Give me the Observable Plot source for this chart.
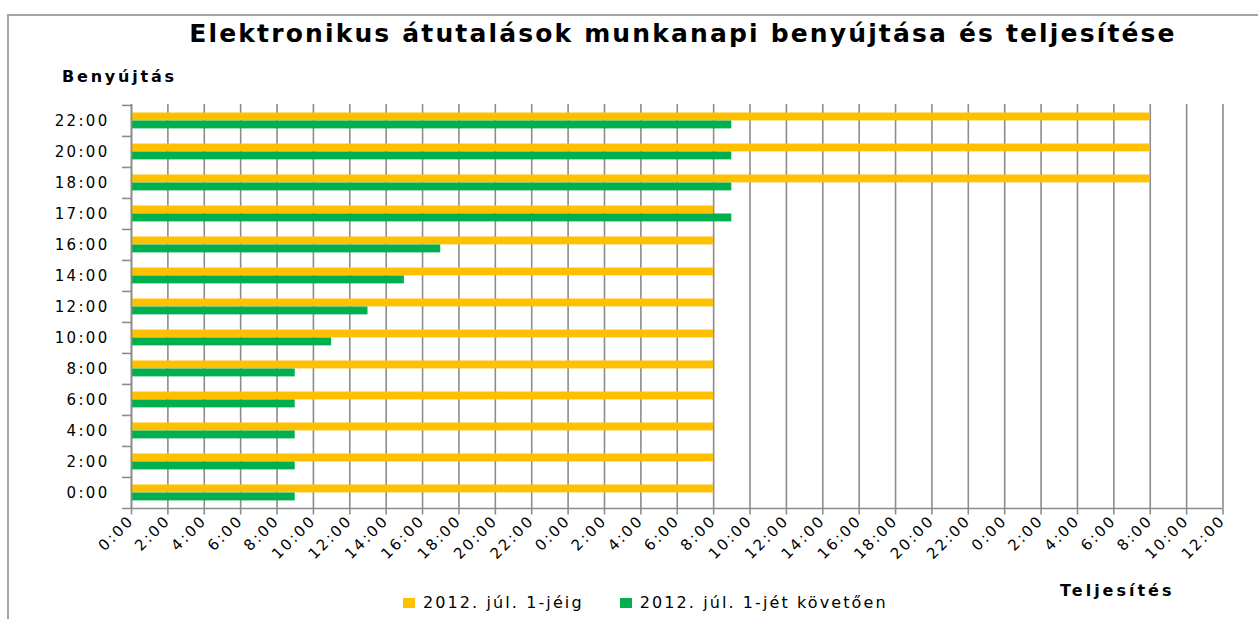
<!DOCTYPE html>
<html>
<head>
<meta charset="utf-8">
<script src="https://cdn.jsdelivr.net/npm/d3@7"></script>
<script src="https://cdn.jsdelivr.net/npm/@observablehq/plot@0.6"></script>
<style>
  html, body { margin: 0; padding: 0; background: #fff; }
  #wrap { position: relative; width: 1258px; height: 619px; overflow: hidden; font-family: "DejaVu Sans", sans-serif; }
  #frame { position: absolute; left: 7px; top: 14px; width: 1300px; height: 700px; border-left: 2px solid #a6a6a6; border-top: 2px solid #a6a6a6; }
  #chart { position: absolute; left: 0; top: 0; }
  .txt { position: absolute; white-space: nowrap; color: #000; }
  #title { left: 0; width: 1366px; text-align: center; top: 19px; font-size: 25px; font-weight: bold; letter-spacing: 2.15px; }
  #ylab { left: 62px; top: 67px; font-size: 16px; font-weight: bold; letter-spacing: 2.8px; }
  #xlab { left: 1060px; top: 581px; font-size: 16px; font-weight: bold; letter-spacing: 3px; }
  #legend { left: 403px; top: 593px; font-size: 16px; letter-spacing: 2.1px; display: flex; align-items: center; }
  .sw { display: inline-block; width: 12px; height: 10px; margin-right: 8px; }
</style>
</head>
<body>
<div id="wrap">
  <div id="frame"></div>
  <div id="chart"></div>
  <div class="txt" id="title">Elektronikus átutalások munkanapi benyújtása és teljesítése</div>
  <div class="txt" id="ylab">Benyújtás</div>
  <div class="txt" id="xlab">Teljesítés</div>
  <div class="txt" id="legend"></div>
</div>
<script>
// Submission times (categories, top to bottom)
const categories = ["22:00","20:00","18:00","17:00","16:00","14:00","12:00","10:00","8:00","6:00","4:00","2:00","0:00"];
// Completion time in hours from day-1 0:00
const seriesBefore = [56, 56, 56, 32, 32, 32, 32, 32, 32, 32, 32, 32, 32]; // 2012. júl. 1-jéig
const seriesAfter  = [33, 33, 33, 33, 17, 15, 13, 11, 9, 9, 9, 9, 9];      // 2012. júl. 1-jét követően
const seriesNames = ["2012. júl. 1-jéig", "2012. júl. 1-jét követően"];
const seriesColors = ["#FFC000", "#00B050"];
const xTicks = d3.range(0, 61, 2);
const tickLabel = h => `${h % 24}:00`;

const W = 1258, H = 619;
const mL = 131, mR = 35.5, mT = 104, mB = 110.5;
const band = (H - mT - mB) / categories.length;
const plotW = W - mL - mR;

const before = categories.map((c, i) => ({cat: c, v: seriesBefore[i]}));
const after = categories.map((c, i) => ({cat: c, v: seriesAfter[i]}));
const gridColor = "#8c8c8c";

const chart = Plot.plot({
  width: W, height: H,
  marginLeft: mL, marginRight: mR, marginTop: mT, marginBottom: mB,
  style: {fontFamily: "DejaVu Sans, sans-serif", fontSize: "15px", letterSpacing: "2.3px", color: "#000", background: "transparent"},
  x: {domain: [0, 60]},
  y: {domain: categories, padding: 0},
  marks: [
    Plot.ruleX(xTicks, {x: d => d, stroke: gridColor, strokeWidth: 1.6}),
    Plot.axisX({ticks: xTicks, tickFormat: tickLabel, tickRotate: -45, tickSize: 6, tickPadding: 3, stroke: gridColor, strokeWidth: 1.6, label: null, fontSize: 15}),
    Plot.axisY({tickSize: 0, tickPadding: 22, label: null}),
    // category boundary ticks on the y axis
    Plot.tickY(categories, {y: d => d, dy: -band / 2, dx: -9, insetRight: plotW - 9, stroke: gridColor, strokeWidth: 1.6}),
    Plot.tickY(categories.slice(-1), {y: d => d, dy: band / 2, dx: -9, insetRight: -9, stroke: gridColor, strokeWidth: 1.6}),
    Plot.barX(before, {x: "v", y: "cat", fill: seriesColors[0], insetTop: 7.5, insetBottom: band - 15.5}),
    Plot.barX(after, {x: "v", y: "cat", fill: seriesColors[1], insetTop: 15.5, insetBottom: band - 23.5}),
    Plot.ruleX([0], {stroke: gridColor, strokeWidth: 1.6})
  ]
});
document.getElementById("chart").appendChild(chart);

const lg = document.getElementById("legend");
seriesNames.forEach((n, i) => {
  const item = document.createElement("span");
  item.style.display = "inline-flex";
  item.style.alignItems = "center";
  item.style.marginRight = i === 0 ? "36px" : "0";
  const sw = document.createElement("span");
  sw.className = "sw";
  sw.style.background = seriesColors[i];
  item.appendChild(sw);
  item.appendChild(document.createTextNode(n));
  lg.appendChild(item);
});
</script>
</body>
</html>
